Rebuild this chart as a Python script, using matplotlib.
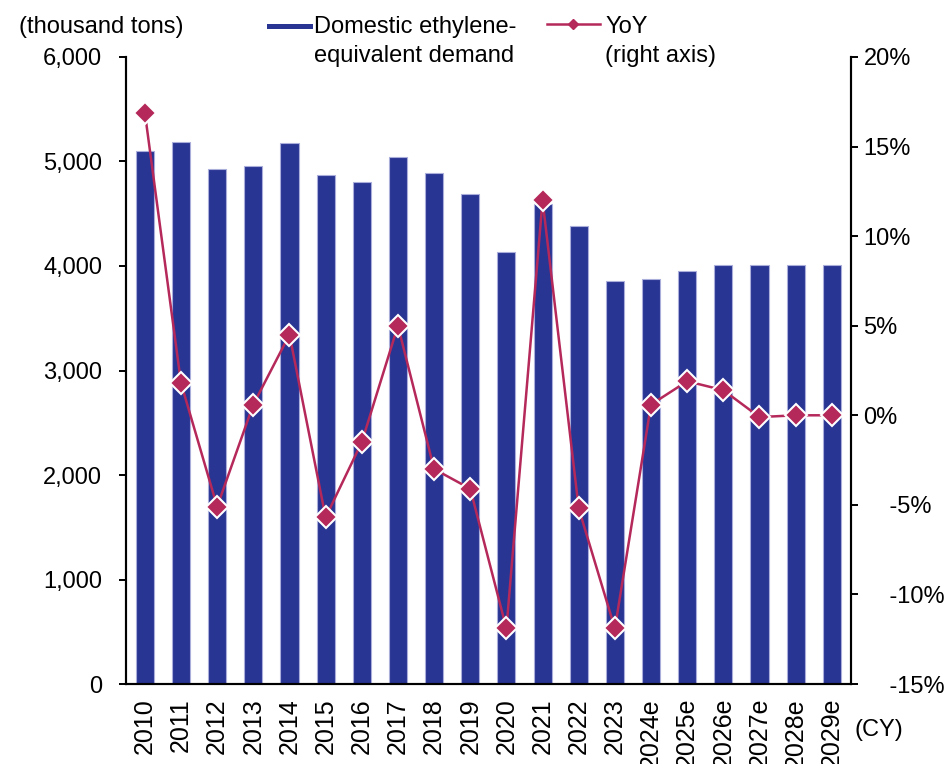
import matplotlib.pyplot as plt
from matplotlib.lines import Line2D
from matplotlib.patches import Rectangle
from matplotlib.ticker import FixedLocator

plt.rcParams['font.family'] = ['Liberation Sans', 'DejaVu Sans']
plt.rcParams['font.size'] = 17

# Domestic ethylene-equivalent demand (thousand tons) and YoY change (%)
years = ['2010', '2011', '2012', '2013', '2014', '2015', '2016', '2017', '2018', '2019',
         '2020', '2021', '2022', '2023', '2024e', '2025e', '2026e', '2027e', '2028e', '2029e']
demand = [5100, 5190, 4925, 4955, 5177, 4875, 4800, 5040, 4890, 4690,
          4130, 4595, 4378, 3856, 3880, 3955, 4006, 4006, 4006, 4006]
yoy = [16.9, 1.8, -5.1, 0.6, 4.5, -5.7, -1.5, 5.0, -3.0, -4.1,
       -11.9, 12.0, -5.2, -11.9, 0.6, 1.9, 1.4, -0.1, 0.0, 0.0]

bar_color = '#283593'
line_color = '#B5285A'

fig = plt.figure(figsize=(9.45, 7.64), dpi=100)
ax = fig.add_axes([0.1330, 0.1047, 0.7675, 0.8207])
ax2 = ax.twinx()

x = range(len(years))
ax.bar(x, demand, width=0.5, color=bar_color, edgecolor='#A9AEDB', linewidth=0.8, zorder=2)
ax2.plot(x, yoy, color=line_color, lw=1.8, marker='D', ms=11,
         markerfacecolor=line_color, markeredgecolor='white', markeredgewidth=1.5, zorder=3)

ax.set_xlim(-0.53, len(years) - 0.47)
ax.set_ylim(0, 6000)
ax2.set_ylim(-15, 20)

ax.set_yticks(range(0, 6001, 1000))
ax.set_yticklabels([f'{v:,}' for v in range(0, 6001, 1000)])
pct_ticks = list(range(-15, 21, 5))
ax2.yaxis.set_major_locator(FixedLocator(pct_ticks))
ax2.set_yticklabels([f'{v}%' if v >= 0 else f'    {v}%' for v in pct_ticks])

ax.set_xticks(list(x))
ax.set_xticklabels(years, rotation=90, va='top', ha='center', fontsize=18)
ax.tick_params(axis='x', length=0, pad=10)
ax.tick_params(axis='y', direction='out', length=5, width=1.4, pad=12)
ax2.tick_params(axis='y', direction='out', length=5, width=1.4, pad=4)

for a in (ax, ax2):
    a.spines['top'].set_visible(False)
    for s in ('left', 'right', 'bottom'):
        a.spines[s].set_linewidth(1.5)
ax2.set_zorder(ax.get_zorder() + 1)
ax2.patch.set_visible(False)

# Unit labels
fig.text(19 / 945, 1 - 27 / 764, '(thousand tons)', ha='left', va='center')
fig.text(855 / 945, 1 - 730 / 764, '(CY)', ha='left', va='center')

# Legend drawn in figure pixels
W, H = 945, 764
fig.add_artist(Rectangle((267 / W, 1 - 29 / H), 46 / W, 5 / H, transform=fig.transFigure,
                         facecolor=bar_color, edgecolor='none'))
fig.text(314 / W, 1 - 27 / H, 'Domestic ethylene-', ha='left', va='center')
fig.text(314 / W, 1 - 56 / H, 'equivalent demand', ha='left', va='center')
fig.add_artist(Line2D([547 / W, 600 / W], [1 - 24 / H, 1 - 24 / H], transform=fig.transFigure,
                      color=line_color, lw=1.8))
fig.add_artist(Line2D([573 / W], [1 - 24 / H], transform=fig.transFigure, marker='D', ms=5,
                      color=line_color, markeredgecolor=line_color))
fig.text(605 / W, 1 - 27 / H, 'YoY', ha='left', va='center')
fig.text(605 / W, 1 - 56 / H, '(right axis)', ha='left', va='center')

fig.savefig('out.png', dpi=100)
